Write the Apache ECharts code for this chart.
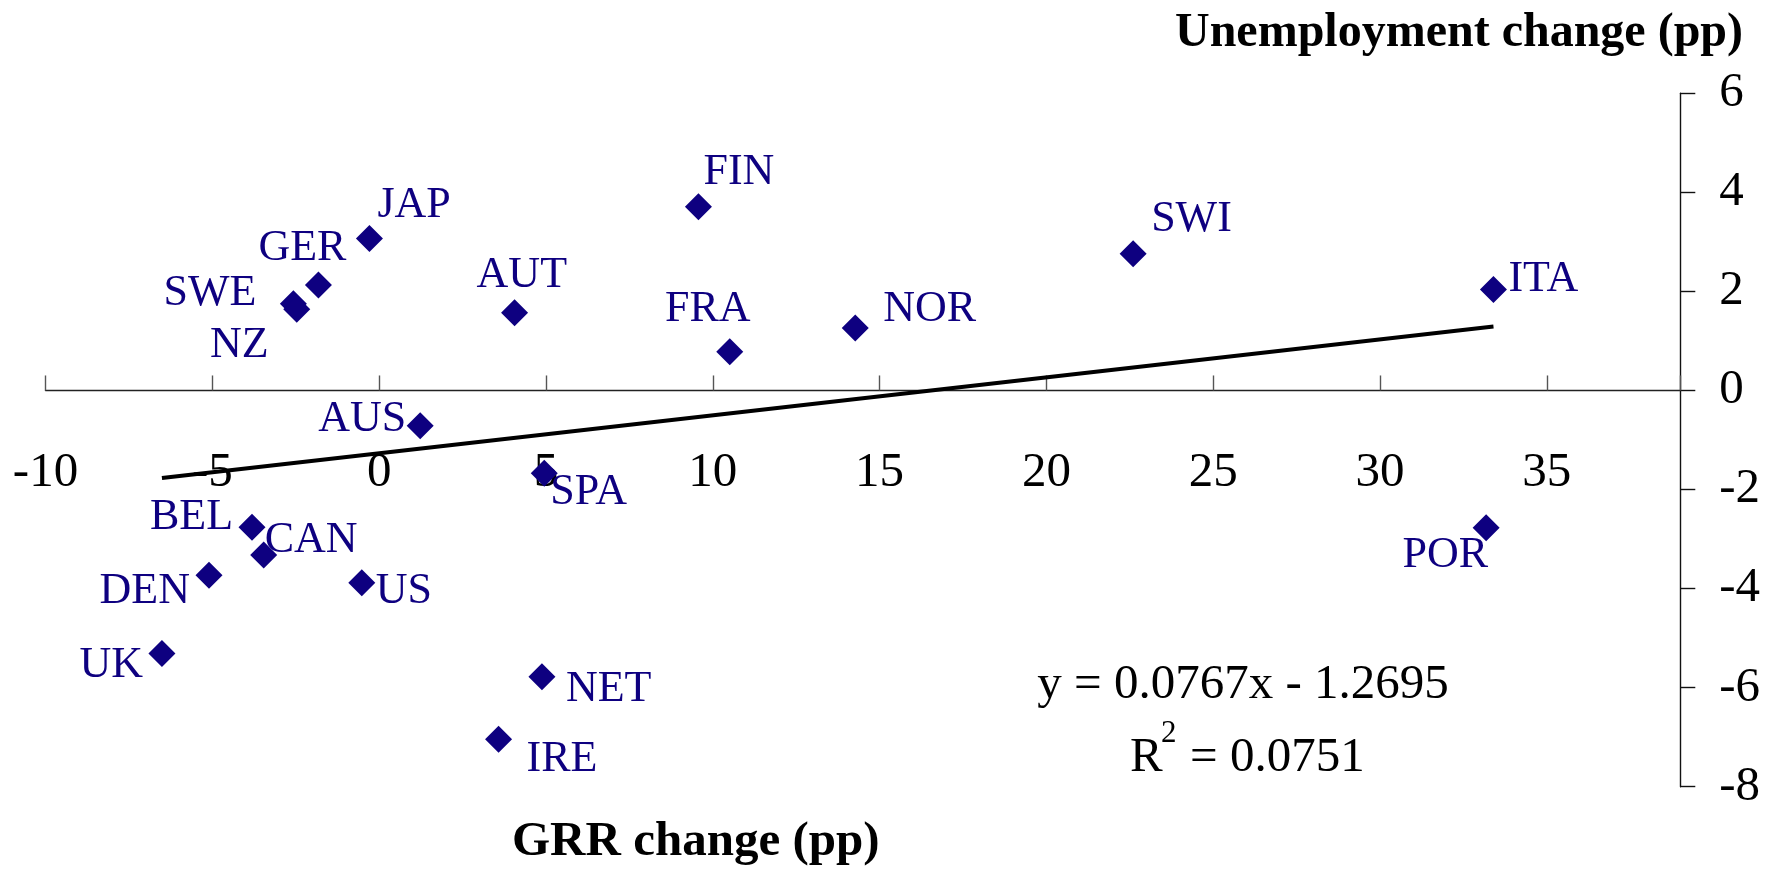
<!DOCTYPE html>
<html>
<head>
<meta charset="utf-8">
<script src="https://cdn.jsdelivr.net/npm/echarts@6/dist/echarts.min.js"></script>
<style>
html,body{margin:0;padding:0;background:#fff;}
#chart{width:1772px;height:869px;}
</style>
</head>
<body>
<div id="chart"></div>
<script>
// ---- data ----
var countries   = ['JAP','GER','SWE','NZ','AUT','AUS','FIN','FRA','NOR','SWI','ITA','BEL','CAN','DEN','US','UK','NET','IRE','SPA','POR'];
var grrChange   = [-0.29,-1.82,-2.57,-2.47, 4.06, 1.23, 9.57,10.51,14.27,22.60,33.40,-3.81,-3.46,-5.10,-0.52,-6.51, 4.88, 3.58, 4.95,33.18];
var unempChange = [ 3.07, 2.13, 1.75, 1.64, 1.57,-0.71, 3.71, 0.78, 1.26, 2.76, 2.04,-2.76,-3.32,-3.73,-3.88,-5.31,-5.78,-7.04,-1.67,-2.77];
var trendSlope = 0.0767;
var trendIntercept = -1.2695;
var equationText = 'y = 0.0767x - 1.2695';
var r2Value = '0.0751';
var xTitle = 'GRR change (pp)';
var yTitle = 'Unemployment change (pp)';

// ---- label placement (style, not data) ----
var labelPlace = {
  JAP:['left',8,-33], GER:['center',-16,-37], SWE:['right',-37,-10], NZ:['right',-28,36],
  AUT:['left',-38,-37], AUS:['right',-14,-6], FIN:['left',5,-34], FRA:['center',-22,-42],
  NOR:['left',28,-19], SWI:['left',18,-34], ITA:['left',15,-10], BEL:['right',-19,-10],
  CAN:['left',1,-14], DEN:['right',-19,16], US:['left',14,9], UK:['right',-19,12],
  NET:['left',24,13], IRE:['left',28,20], SPA:['left',6,19], POR:['right',2,28]
};

var navy = '#0e0080';
var serif = "'Liberation Serif','Times New Roman',serif";

var points = countries.map(function(c,i){
  var p = labelPlace[c];
  return {
    name: c,
    value: [grrChange[i], unempChange[i]],
    label: {
      show: true, formatter: c, position: 'inside',
      align: p[0], verticalAlign: 'middle', offset: [p[1], p[2]],
      color: navy, fontSize: 44, fontFamily: serif
    }
  };
});

var minX = Math.min.apply(null, grrChange);
var maxX = Math.max.apply(null, grrChange);
var trend = [[minX, trendSlope*minX + trendIntercept],[maxX, trendSlope*maxX + trendIntercept]];

var chart = echarts.init(document.getElementById('chart'), null, {renderer:'canvas'});
chart.setOption({
  animation: false,
  backgroundColor: '#fff',
  grid: {left: 45.5, right: 91.7, top: 93.3, bottom: 82.3, containLabel: false, outerBoundsMode: 'none'},
  xAxis: {
    type: 'value', min: -10, max: 39, interval: 5,
    axisLine: {show: true, onZero: true, lineStyle: {color: '#222', width: 1.4}},
    axisTick: {show: true, inside: true, length: 15, lineStyle: {color: '#555', width: 1.4}},
    axisLabel: {
      margin: -314, verticalAlign: 'middle', color: '#000', fontSize: 49, fontFamily: serif,
      formatter: function(v){ return (Math.round(v) % 5 === 0) ? String(v) : ''; }
    },
    splitLine: {show: false}
  },
  yAxis: {
    type: 'value', position: 'right', min: -8, max: 6, interval: 2,
    axisLine: {show: true, onZero: false, lineStyle: {color: '#111', width: 1.4}},
    axisTick: {show: true, inside: false, length: 15, lineStyle: {color: '#111', width: 1.4}},
    axisLabel: {margin: 39, align: 'left', color: '#000', fontSize: 49, fontFamily: serif},
    splitLine: {show: false}
  },
  series: [
    {
      type: 'line', data: trend, symbol: 'none', silent: true, z: 2,
      lineStyle: {color: '#000', width: 4}
    },
    {
      type: 'scatter', data: points, symbol: 'diamond', symbolSize: 27, z: 3,
      itemStyle: {color: navy, opacity: 1}
    }
  ],
  graphic: [
    {type:'text', x: 1743, y: 34, style:{text: yTitle, align:'right', verticalAlign:'middle', fill:'#000', font: "bold 48px " + serif}},
    {type:'text', x: 512, y: 842, style:{text: xTitle, align:'left', verticalAlign:'middle', fill:'#000', font: "bold 49px " + serif}},
    {type:'text', x: 1243, y: 685, style:{text: equationText, align:'center', verticalAlign:'middle', fill:'#000', font: "49px " + serif}},
    {type:'text', x: 1130, y: 758, style:{text: 'R', align:'left', verticalAlign:'middle', fill:'#000', font: "49px " + serif}},
    {type:'text', x: 1161, y: 734, style:{text: '2', align:'left', verticalAlign:'middle', fill:'#000', font: "31px " + serif}},
    {type:'text', x: 1190, y: 758, style:{text: '= ' + r2Value, align:'left', verticalAlign:'middle', fill:'#000', font: "49px " + serif}}
  ]
});
</script>
</body>
</html>
